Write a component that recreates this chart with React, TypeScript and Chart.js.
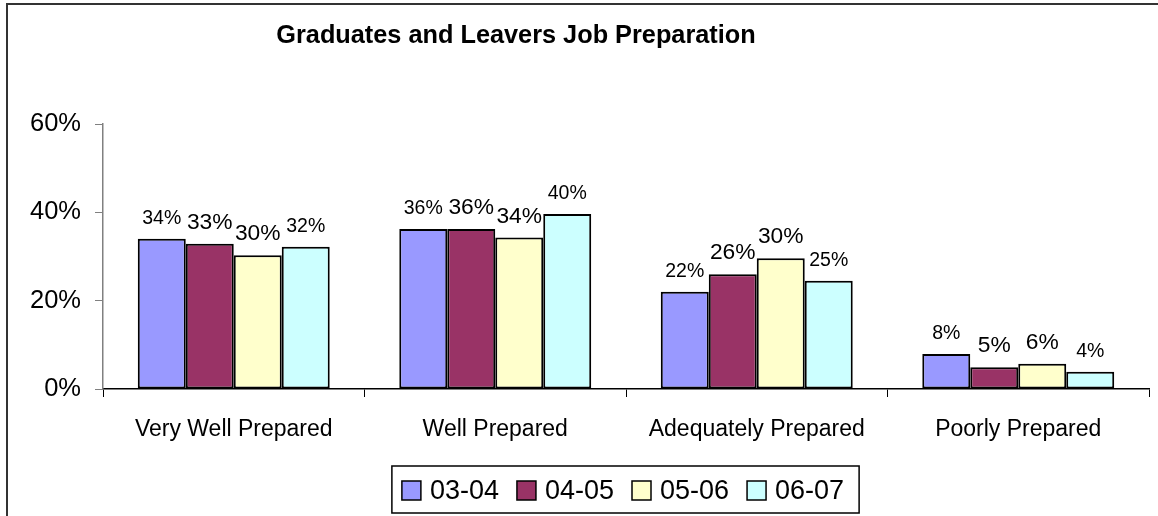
import React, { useEffect, useRef } from "react";
import { Chart, registerables } from "chart.js";

Chart.register(...registerables);

const TITLE = "Graduates and Leavers Job Preparation";
const categories = ["Very Well Prepared", "Well Prepared", "Adequately Prepared", "Poorly Prepared"];
const seriesNames = ["03-04", "04-05", "05-06", "06-07"];
const s0304 = [34, 36.2, 22, 7.9];
const s0405 = [32.9, 36.2, 26, 4.9];
const s0506 = [30.3, 34.3, 29.6, 5.7];
const s0607 = [32.2, 39.6, 24.5, 3.9];
const yTicks = [0, 20, 40, 60];

const seriesValues = [s0304, s0405, s0506, s0607];
const colors = ["#9999FF", "#993366", "#FFFFCC", "#CCFFFF"];
const labelFontSizes = [19.5, 22.8, 22.8, 19.5];
const FONT = "'Liberation Sans', Arial, sans-serif";

const framePlugin = {
  id: "frame",
  beforeDraw(chart: any) {
    const ctx = chart.ctx;
    ctx.save();
    ctx.fillStyle = "#ffffff";
    ctx.fillRect(0, 0, chart.width, chart.height);
    ctx.strokeStyle = "#333333";
    ctx.lineWidth = 2;
    ctx.beginPath();
    ctx.moveTo(7, chart.height + 2);
    ctx.lineTo(7, 4);
    ctx.lineTo(chart.width + 2, 4);
    ctx.stroke();
    ctx.fillStyle = "#000";
    ctx.font = `bold 25.3px ${FONT}`;
    ctx.textAlign = "center";
    ctx.textBaseline = "alphabetic";
    ctx.fillText(TITLE, 516, 43);
    ctx.restore();
  },
};

const labelPlugin = {
  id: "barLabels",
  afterDatasetsDraw(chart: any) {
    const ctx = chart.ctx;
    ctx.save();
    ctx.fillStyle = "#000";
    ctx.textAlign = "center";
    ctx.textBaseline = "alphabetic";
    chart.data.datasets.forEach((ds: any, di: number) => {
      const meta = chart.getDatasetMeta(di);
      ctx.font = `${labelFontSizes[di]}px ${FONT}`;
      meta.data.forEach((bar: any, i: number) => {
        const v = ds.data[i];
        ctx.fillText(`${Math.round(v)}%`, bar.x, bar.y - 15);
      });
    });
    ctx.restore();
  },
};

const legendPlugin = {
  id: "customLegend",
  afterDraw(chart: any) {
    const ctx = chart.ctx;
    const ds = chart.data.datasets;
    ctx.save();
    ctx.font = `27px ${FONT}`;
    const sq = 19;
    const gap = 9;
    const spacing = 18;
    const widths = ds.map((d: any) => sq + gap + ctx.measureText(d.label).width);
    const total = widths.reduce((a: number, b: number) => a + b, 0) + spacing * (ds.length - 1);
    const cx = (chart.chartArea.left + chart.chartArea.right) / 2;
    let x = cx - total / 2 - 3;
    const boxTop = 466;
    const boxBottom = 513;
    ctx.strokeStyle = "#000";
    ctx.lineWidth = 1.5;
    ctx.strokeRect(x - 10, boxTop, total + 25, boxBottom - boxTop);
    ctx.textAlign = "left";
    ctx.textBaseline = "alphabetic";
    ds.forEach((d: any, i: number) => {
      ctx.fillStyle = d.backgroundColor;
      ctx.fillRect(x, 481, sq, sq);
      ctx.strokeStyle = "#000";
      ctx.lineWidth = 1.5;
      ctx.strokeRect(x, 481, sq, sq);
      ctx.fillStyle = "#000";
      ctx.fillText(d.label, x + sq + gap, 499);
      x += widths[i] + spacing;
    });
    ctx.restore();
  },
};

export default function App() {
  const canvasRef = useRef<HTMLCanvasElement | null>(null);

  useEffect(() => {
    if (!canvasRef.current) return;
    const chart = new Chart(canvasRef.current, {
      type: "bar",
      data: {
        labels: categories,
        datasets: seriesNames.map((name, i) => ({
          label: name,
          data: seriesValues[i],
          backgroundColor: colors[i],
          borderColor: "#000000",
          borderWidth: 2,
          borderSkipped: false,
          categoryPercentage: 0.734,
          barPercentage: 1.0,
        })),
      },
      options: {
        animation: false,
        responsive: false,
        devicePixelRatio: 1,
        layout: { padding: { left: 0, right: 9, top: 124, bottom: 0 } },
        plugins: {
          legend: { display: false },
          title: { display: false },
          tooltip: { enabled: false },
        },
        scales: {
          x: {
            grid: {
              display: true,
              drawOnChartArea: false,
              drawTicks: true,
              tickLength: 8,
              color: "#000000",
              offset: true,
            },
            border: { display: true, color: "#000000", width: 1.5 },
            ticks: {
              color: "#000000",
              font: { family: FONT, size: 23 },
              padding: 19,
              maxRotation: 0,
              autoSkip: false,
            },
            afterFit(scale: any) {
              scale.height = 127;
            },
          },
          y: {
            min: 0,
            max: 60,
            afterBuildTicks(scale: any) {
              scale.ticks = yTicks.map((v) => ({ value: v }));
            },
            grid: {
              display: true,
              drawOnChartArea: false,
              drawTicks: true,
              tickLength: 8,
              color: "#808080",
            },
            border: { display: true, color: "#808080", width: 1.5 },
            ticks: {
              color: "#000000",
              font: { family: FONT, size: 25.5 },
              padding: 14,
              callback: (v: any) => `${v}%`,
            },
            afterFit(scale: any) {
              scale.width = 103;
            },
          },
        },
      },
      plugins: [framePlugin, labelPlugin, legendPlugin],
    });
    return () => chart.destroy();
  }, []);

  return (
    <div style={{ position: "fixed", left: 0, top: 0, width: 1158, height: 516, background: "#fff" }}>
      <canvas ref={canvasRef} width={1158} height={516} style={{ display: "block" }} />
    </div>
  );
}
